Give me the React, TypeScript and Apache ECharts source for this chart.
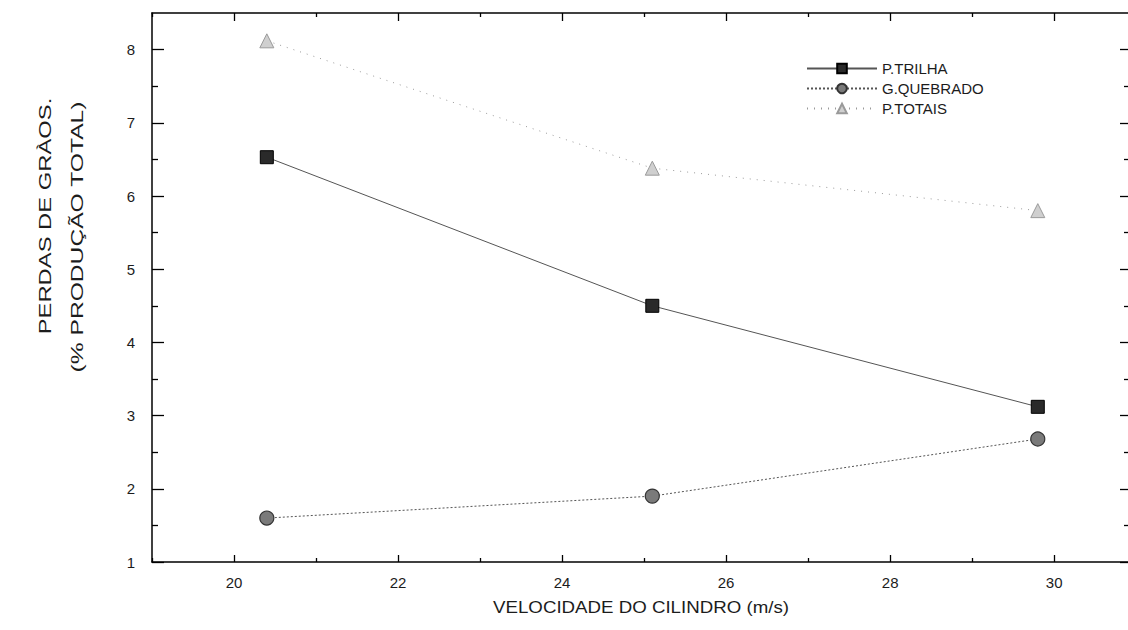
import React, { useEffect, useRef } from "react";
import * as echarts from "echarts";

// Cylinder speed (m/s) and grain losses (% of total production)
const SPEED = [20.4, 25.1, 29.8];
const P_TRILHA = [6.53, 4.5, 3.12];
const G_QUEBRADO = [1.6, 1.9, 2.68];
const P_TOTAIS = [8.12, 6.38, 5.8];

const SERIES_NAMES = ["P.TRILHA", "G.QUEBRADO", "P.TOTAIS"];

// Axis ranges and tick positions
const X_MIN = 19;
const X_MAX = 30.9;
const Y_MIN = 1;
const Y_MAX = 8.5;
const X_MAJOR = [20, 22, 24, 26, 28, 30];
const X_MINOR = [19, 21, 23, 25, 27, 29];
const Y_MAJOR = [1, 2, 3, 4, 5, 6, 7, 8];
const Y_MINOR = [1.5, 2.5, 3.5, 4.5, 5.5, 6.5, 7.5];

const X_TITLE = "VELOCIDADE DO CILINDRO (m/s)";
const Y_TITLE_1 = "PERDAS DE GRÀOS.";
const Y_TITLE_2 = "(% PRODUÇÃO TOTAL)";

const FONT = "'Liberation Sans', Arial, sans-serif";
const INK = "#1c1c1c";

const pairs = (ys: number[]) => SPEED.map((x, i) => [x, ys[i]]);

export default function App() {
  const ref = useRef<HTMLDivElement>(null);

  useEffect(() => {
    if (!ref.current) return;
    const chart = echarts.init(ref.current, null, { renderer: "svg" });

    const gridRect = { left: 152, top: 13, right: 0, bottom: 68 };

    const xAxisBase = (gridIndex: number, position: string, ticks: number[], len: number, labels: boolean, line: boolean) => ({
      type: "value",
      gridIndex,
      position,
      min: X_MIN,
      max: X_MAX,
      axisLine: { show: line, lineStyle: { color: "#000", width: 1.5 } },
      axisTick: { show: true, inside: true, length: len, customValues: ticks, lineStyle: { color: "#000", width: 1.3 } },
      axisLabel: labels
        ? { show: true, customValues: X_MAJOR, color: INK, fontSize: 15, fontFamily: FONT, margin: 13 }
        : { show: false },
      splitLine: { show: false },
    });

    const yAxisBase = (gridIndex: number, position: string, ticks: number[], len: number, labels: boolean, line: boolean) => ({
      type: "value",
      gridIndex,
      position,
      min: Y_MIN,
      max: Y_MAX,
      axisLine: { show: line, lineStyle: { color: "#000", width: 1.5 } },
      axisTick: { show: true, inside: true, length: len, customValues: ticks, lineStyle: { color: "#000", width: 1.3 } },
      axisLabel: labels
        ? { show: true, customValues: Y_MAJOR, color: INK, fontSize: 15, fontFamily: FONT, margin: 17 }
        : { show: false },
      splitLine: { show: false },
    });

    chart.setOption({
      animation: false,
      backgroundColor: "#ffffff",
      grid: [
        { ...gridRect, show: false },
        { ...gridRect, show: false },
      ],
      xAxis: [
        xAxisBase(0, "bottom", X_MAJOR, 7, true, true),
        xAxisBase(0, "top", X_MAJOR, 8, false, true),
        xAxisBase(1, "bottom", X_MINOR, 4, false, false),
        xAxisBase(1, "top", X_MINOR, 4, false, false),
      ],
      yAxis: [
        yAxisBase(0, "left", Y_MAJOR, 12, true, true),
        yAxisBase(0, "right", Y_MAJOR, 8, false, false),
        yAxisBase(1, "left", Y_MINOR, 6, false, false),
        yAxisBase(1, "right", Y_MINOR, 4, false, false),
      ],
      legend: {
        orient: "vertical",
        left: 806,
        top: 61,
        padding: 0,
        itemWidth: 70,
        itemHeight: 12,
        itemGap: 5,
        data: SERIES_NAMES,
        textStyle: { color: INK, fontSize: 15, fontFamily: FONT },
      },
      series: [
        {
          name: SERIES_NAMES[0],
          type: "line",
          xAxisIndex: 0,
          yAxisIndex: 0,
          data: pairs(P_TRILHA),
          symbol: "rect",
          symbolSize: 13,
          itemStyle: { color: "#2a2a2a", borderColor: "#000", borderWidth: 1 },
          lineStyle: { color: "#555", width: 1, type: "solid" },
        },
        {
          name: SERIES_NAMES[1],
          type: "line",
          xAxisIndex: 0,
          yAxisIndex: 0,
          data: pairs(G_QUEBRADO),
          symbol: "circle",
          symbolSize: 14,
          itemStyle: { color: "#7a7a7a", borderColor: "#333", borderWidth: 1.2 },
          lineStyle: { color: "#555", width: 1, type: [2, 2] },
        },
        {
          name: SERIES_NAMES[2],
          type: "line",
          xAxisIndex: 0,
          yAxisIndex: 0,
          data: pairs(P_TOTAIS),
          symbol: "triangle",
          symbolSize: 14,
          itemStyle: { color: "#cfcfcf", borderColor: "#9a9a9a", borderWidth: 1 },
          lineStyle: { color: "#9a9a9a", width: 1, type: [1, 6] },
        },
      ],
      graphic: [
        {
          type: "text",
          x: 641,
          y: 607,
          scaleX: 1.1,
          style: {
            text: X_TITLE,
            fill: INK,
            font: `17px ${FONT}`,
            align: "center",
            verticalAlign: "middle",
          },
        },
        {
          type: "text",
          x: 45,
          y: 216,
          rotation: Math.PI / 2,
          scaleX: 1.4,
          style: {
            text: Y_TITLE_1,
            fill: INK,
            font: `17px ${FONT}`,
            align: "center",
            verticalAlign: "middle",
          },
        },
        {
          type: "text",
          x: 77,
          y: 237,
          rotation: Math.PI / 2,
          scaleX: 1.45,
          style: {
            text: Y_TITLE_2,
            fill: INK,
            font: `17px ${FONT}`,
            align: "center",
            verticalAlign: "middle",
          },
        },
      ],
    });

    return () => chart.dispose();
  }, []);

  return (
    <div
      ref={ref}
      style={{ position: "absolute", left: 0, top: 0, width: 1128, height: 630 }}
    />
  );
}
